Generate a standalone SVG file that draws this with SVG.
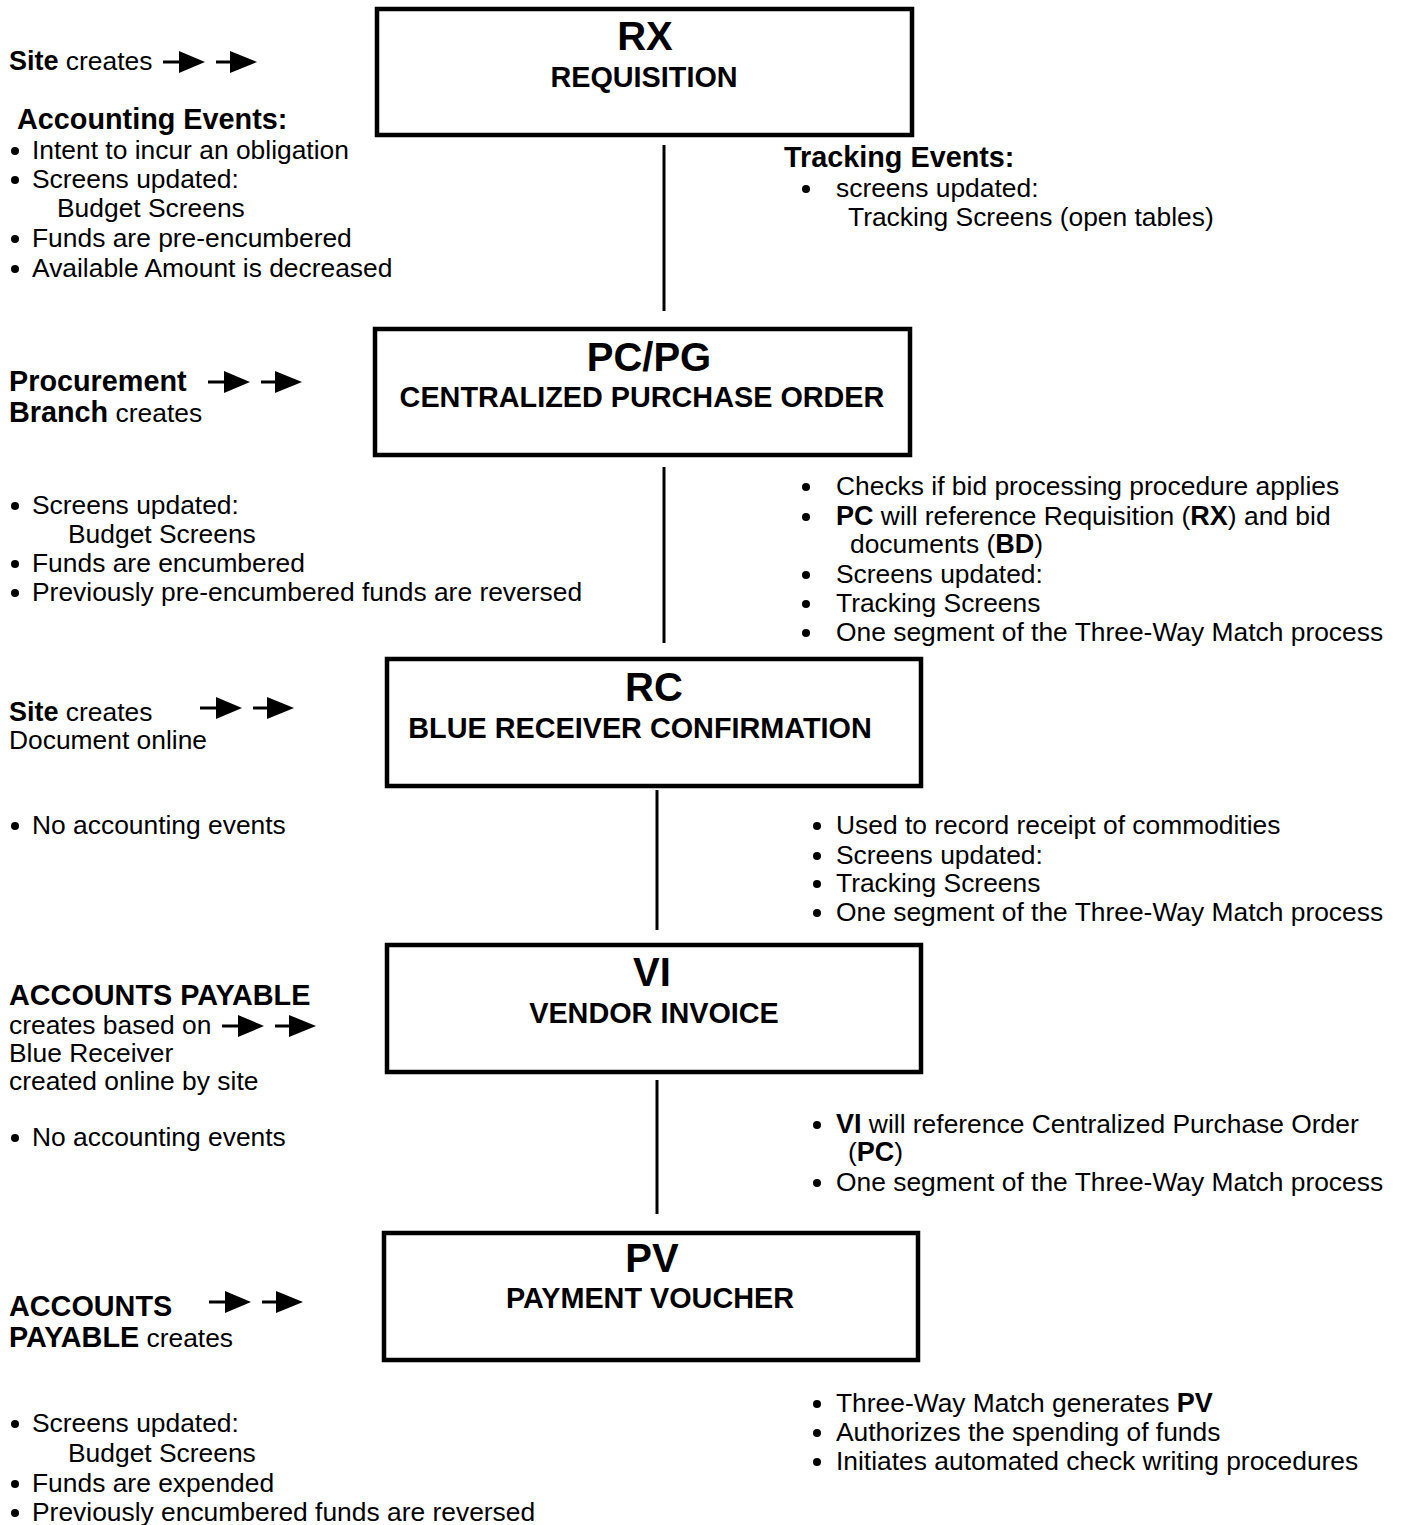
<svg xmlns="http://www.w3.org/2000/svg" width="1403" height="1525" viewBox="0 0 1403 1525">
<style>
text{font-family:"Liberation Sans",Arial,sans-serif;fill:#000}
.r{font-size:26.4px}
.b{font-size:28.8px;font-weight:bold}
.ib{font-weight:bold;font-size:27px}
.t{font-size:40px;font-weight:bold;text-anchor:middle}
.s{font-size:28.8px;font-weight:bold;text-anchor:middle}
.box{fill:#fff;stroke:#000;stroke-width:4.5}
.con{stroke:#000;stroke-width:3;fill:none}
</style>
<defs>
<g id="arr2">
<line x1="0" y1="0" x2="18" y2="0" stroke="#000" stroke-width="3"/>
<polygon points="16,-11 42,0 16,11" fill="#000"/>
<line x1="53" y1="0" x2="69" y2="0" stroke="#000" stroke-width="3"/>
<polygon points="67,-11 94,0 67,11" fill="#000"/>
</g>
<circle id="dot" r="4" fill="#000"/>
</defs>
<rect width="1403" height="1525" fill="#fff"/>

<g id="connectors">
<line class="con" x1="664" y1="145" x2="664" y2="311"/>
<line class="con" x1="664" y1="467" x2="664" y2="643"/>
<line class="con" x1="657" y1="790" x2="657" y2="930"/>
<line class="con" x1="657" y1="1080" x2="657" y2="1214"/>
</g>

<g id="node-rx">
<rect class="box" x="377" y="9" width="535" height="126"/>
<text class="t" x="645" y="50">RX</text>
<text class="s" x="644" y="87">REQUISITION</text>
</g>
<g id="node-pc">
<rect class="box" x="375" y="329" width="535" height="126"/>
<text class="t" x="649" y="371">PC/PG</text>
<text class="s" x="642" y="407">CENTRALIZED PURCHASE ORDER</text>
</g>
<g id="node-rc">
<rect class="box" x="387" y="659" width="534" height="127"/>
<text class="t" x="654" y="701">RC</text>
<text class="s" x="640" y="738">BLUE RECEIVER CONFIRMATION</text>
</g>
<g id="node-vi">
<rect class="box" x="387" y="945" width="534" height="127"/>
<text class="t" x="652" y="986">VI</text>
<text class="s" x="654" y="1023">VENDOR INVOICE</text>
</g>
<g id="node-pv">
<rect class="box" x="384" y="1233" width="534" height="127"/>
<text class="t" x="652" y="1272">PV</text>
<text class="s" x="650" y="1308">PAYMENT VOUCHER</text>
</g>

<g id="left-rx">
<text class="r" x="9" y="70"><tspan class="ib">Site</tspan> creates</text>
<use href="#arr2" x="163" y="62"/>
<text class="b" x="17" y="129">Accounting Events:</text>
<use href="#dot" x="15" y="151"/>
<text class="r" x="32" y="159">Intent to incur an obligation</text>
<use href="#dot" x="15" y="180"/>
<text class="r" x="32" y="188">Screens updated:</text>
<text class="r" x="57" y="217">Budget Screens</text>
<use href="#dot" x="15" y="239"/>
<text class="r" x="32" y="247">Funds are pre-encumbered</text>
<use href="#dot" x="15" y="269"/>
<text class="r" x="32" y="277">Available Amount is decreased</text>
</g>
<g id="right-rx">
<text class="b" x="784" y="167">Tracking Events:</text>
<use href="#dot" x="806" y="189"/>
<text class="r" x="836" y="197">screens updated:</text>
<text class="r" x="848" y="226">Tracking Screens (open tables)</text>
</g>

<g id="left-pc">
<text class="b" x="9" y="391">Procurement</text>
<text class="r" x="9" y="422"><tspan class="b">Branch</tspan> creates</text>
<use href="#arr2" x="208" y="382"/>
<use href="#dot" x="15" y="506"/>
<text class="r" x="32" y="514">Screens updated:</text>
<text class="r" x="68" y="543">Budget Screens</text>
<use href="#dot" x="15" y="564"/>
<text class="r" x="32" y="572">Funds are encumbered</text>
<use href="#dot" x="15" y="593"/>
<text class="r" x="32" y="601">Previously pre-encumbered funds are reversed</text>
</g>
<g id="right-pc">
<use href="#dot" x="806" y="487"/>
<text class="r" x="836" y="495">Checks if bid processing procedure applies</text>
<use href="#dot" x="806" y="517"/>
<text class="r" x="836" y="525"><tspan class="ib">PC</tspan> will reference Requisition (<tspan class="ib">RX</tspan>) and bid</text>
<text class="r" x="850" y="553">documents (<tspan class="ib">BD</tspan>)</text>
<use href="#dot" x="806" y="575"/>
<text class="r" x="836" y="583">Screens updated:</text>
<use href="#dot" x="806" y="604"/>
<text class="r" x="836" y="612">Tracking Screens</text>
<use href="#dot" x="806" y="633"/>
<text class="r" x="836" y="641">One segment of the Three-Way Match process</text>
</g>

<g id="left-rc">
<text class="r" x="9" y="721"><tspan class="ib">Site</tspan> creates</text>
<text class="r" x="9" y="749">Document online</text>
<use href="#arr2" x="200" y="708"/>
<use href="#dot" x="15" y="826"/>
<text class="r" x="32" y="834">No accounting events</text>
</g>
<g id="right-rc">
<use href="#dot" x="817" y="826"/>
<text class="r" x="836" y="834">Used to record receipt of commodities</text>
<use href="#dot" x="817" y="856"/>
<text class="r" x="836" y="864">Screens updated:</text>
<use href="#dot" x="817" y="884"/>
<text class="r" x="836" y="892">Tracking Screens</text>
<use href="#dot" x="817" y="913"/>
<text class="r" x="836" y="921">One segment of the Three-Way Match process</text>
</g>

<g id="left-vi">
<text class="b" x="9" y="1005">ACCOUNTS PAYABLE</text>
<text class="r" x="9" y="1034">creates based on</text>
<use href="#arr2" x="222" y="1026"/>
<text class="r" x="9" y="1062">Blue Receiver</text>
<text class="r" x="9" y="1090">created online by site</text>
<use href="#dot" x="15" y="1138"/>
<text class="r" x="32" y="1146">No accounting events</text>
</g>
<g id="right-vi">
<use href="#dot" x="817" y="1125"/>
<text class="r" x="836" y="1133"><tspan class="ib">VI</tspan> will reference Centralized Purchase Order</text>
<text class="r" x="848" y="1161">(<tspan class="ib">PC</tspan>)</text>
<use href="#dot" x="817" y="1183"/>
<text class="r" x="836" y="1191">One segment of the Three-Way Match process</text>
</g>

<g id="left-pv">
<text class="b" x="9" y="1316">ACCOUNTS</text>
<text class="r" x="9" y="1347"><tspan class="b">PAYABLE</tspan> creates</text>
<use href="#arr2" x="209" y="1302"/>
<use href="#dot" x="15" y="1424"/>
<text class="r" x="32" y="1432">Screens updated:</text>
<text class="r" x="68" y="1462">Budget Screens</text>
<use href="#dot" x="15" y="1484"/>
<text class="r" x="32" y="1492">Funds are expended</text>
<use href="#dot" x="15" y="1513"/>
<text class="r" x="32" y="1521">Previously encumbered funds are reversed</text>
</g>
<g id="right-pv">
<use href="#dot" x="817" y="1404"/>
<text class="r" x="836" y="1412">Three-Way Match generates <tspan class="ib">PV</tspan></text>
<use href="#dot" x="817" y="1433"/>
<text class="r" x="836" y="1441">Authorizes the spending of funds</text>
<use href="#dot" x="817" y="1462"/>
<text class="r" x="836" y="1470">Initiates automated check writing procedures</text>
</g>
</svg>
